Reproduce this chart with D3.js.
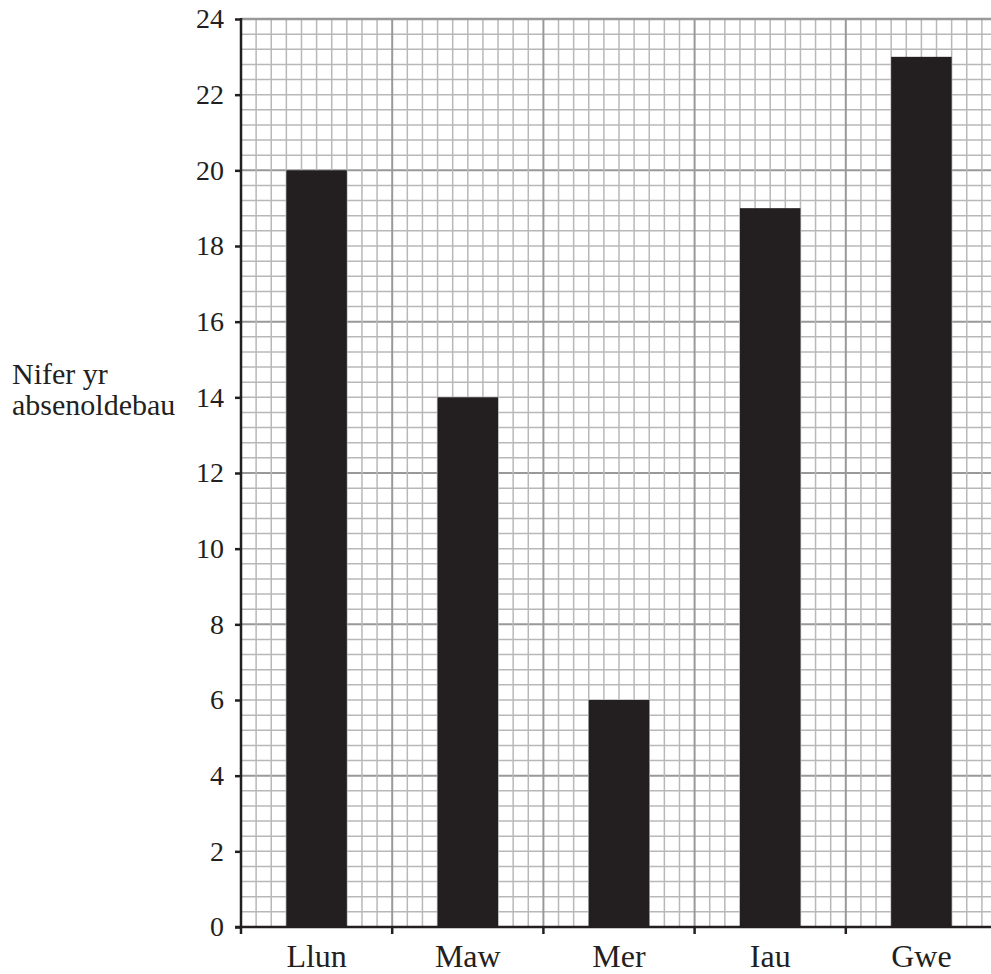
<!DOCTYPE html>
<html>
<head>
<meta charset="utf-8">
<script src="https://cdn.jsdelivr.net/npm/d3@7"></script>
<style>
  body { margin: 0; background: #fff; }
  text { font-family: "Liberation Serif", "Times New Roman", serif; fill: #231f20; }
</style>
</head>
<body>
<div id="chart"></div>
<script>
// Days of the week (Welsh) and number of absences
var days = ["Llun", "Maw", "Mer", "Iau", "Gwe"];
var absences = [20, 14, 6, 19, 23];
var yTicks = [0, 2, 4, 6, 8, 10, 12, 14, 16, 18, 20, 22, 24];
var yTitle = ["Nifer yr", "absenoldebau"];

var width = 991, height = 974;
var plotLeft = 241, plotRight = 997, plotTop = 19, plotBottom = 927;

var svg = d3.select("#chart").append("svg")
    .attr("width", width)
    .attr("height", height);

var y = d3.scaleLinear().domain([0, 24]).range([plotBottom, plotTop]);
var x = d3.scaleBand().domain(days).range([plotLeft, plotRight])
    .paddingInner(0.6).paddingOuter(0.3);
// one small square per cell: 10 cells per day
var xCell = d3.scaleLinear().domain([0, days.length * 10]).range([plotLeft, plotRight]);

// graph paper grid
var grid = svg.append("g");
grid.selectAll("line.hminor")
    .data(d3.range(1, 60))
    .enter().append("line")
    .attr("x1", plotLeft).attr("x2", plotRight)
    .attr("y1", function (d) { return y(d * 0.4); })
    .attr("y2", function (d) { return y(d * 0.4); })
    .attr("stroke", function (d) { return d % 10 === 0 ? "#999" : "#b8b8b8"; })
    .attr("stroke-width", function (d) { return d % 10 === 0 ? 2 : 1.5; });
grid.selectAll("line.vminor")
    .data(d3.range(1, days.length * 10 + 1))
    .enter().append("line")
    .attr("y1", plotTop).attr("y2", plotBottom)
    .attr("x1", function (d) { return xCell(d); })
    .attr("x2", function (d) { return xCell(d); })
    .attr("stroke", function (d) { return d % 10 === 0 ? "#999" : "#b8b8b8"; })
    .attr("stroke-width", function (d) { return d % 10 === 0 ? 2 : 1.5; });
// top edge of the paper
grid.append("line")
    .attr("x1", plotLeft).attr("x2", plotRight)
    .attr("y1", y(24)).attr("y2", y(24))
    .attr("stroke", "#999").attr("stroke-width", 2.5);

// bars
svg.selectAll("rect.bar")
    .data(absences)
    .enter().append("rect")
    .attr("class", "bar")
    .attr("x", function (d, i) { return x(days[i]); })
    .attr("width", x.bandwidth())
    .attr("y", function (d) { return y(d); })
    .attr("height", function (d) { return y(0) - y(d); })
    .attr("fill", "#231f20");

// y axis
var yAxis = svg.append("g")
    .attr("transform", "translate(" + plotLeft + ",0)")
    .call(d3.axisLeft(y).tickValues(yTicks).tickSize(6).tickPadding(11).tickSizeOuter(0));
yAxis.attr("font-family", null).attr("font-size", null);
yAxis.select(".domain").remove();
yAxis.selectAll(".tick line").attr("stroke", "#231f20").attr("stroke-width", 2.5);
yAxis.selectAll(".tick text")
    .style("font-size", "28px")
    .style("font-family", "'Liberation Serif', serif")
    .attr("fill", "#231f20");
svg.append("line")
    .attr("x1", plotLeft).attr("x2", plotLeft)
    .attr("y1", plotTop - 1).attr("y2", plotBottom + 7)
    .attr("stroke", "#231f20").attr("stroke-width", 2.5);

// x axis
svg.append("line")
    .attr("x1", plotLeft - 6).attr("x2", plotRight)
    .attr("y1", plotBottom).attr("y2", plotBottom)
    .attr("stroke", "#231f20").attr("stroke-width", 2.5);
svg.selectAll("line.xtick")
    .data(days.slice(1))
    .enter().append("line")
    .attr("x1", function (d) { return x(d) - x.step() * 0.3; })
    .attr("x2", function (d) { return x(d) - x.step() * 0.3; })
    .attr("y1", plotBottom).attr("y2", plotBottom + 7)
    .attr("stroke", "#231f20").attr("stroke-width", 2.5);
svg.selectAll("text.xlabel")
    .data(days)
    .enter().append("text")
    .attr("x", function (d) { return x(d) + x.bandwidth() / 2; })
    .attr("y", 967)
    .attr("text-anchor", "middle")
    .style("font-size", "32px")
    .text(function (d) { return d; });

// y title
svg.append("text")
    .attr("x", 12)
    .attr("y", 384)
    .style("font-size", "30px")
    .selectAll("tspan")
    .data(yTitle)
    .enter().append("tspan")
    .attr("x", 12)
    .attr("dy", function (d, i) { return i ? 31 : 0; })
    .text(function (d) { return d; });
</script>
</body>
</html>
